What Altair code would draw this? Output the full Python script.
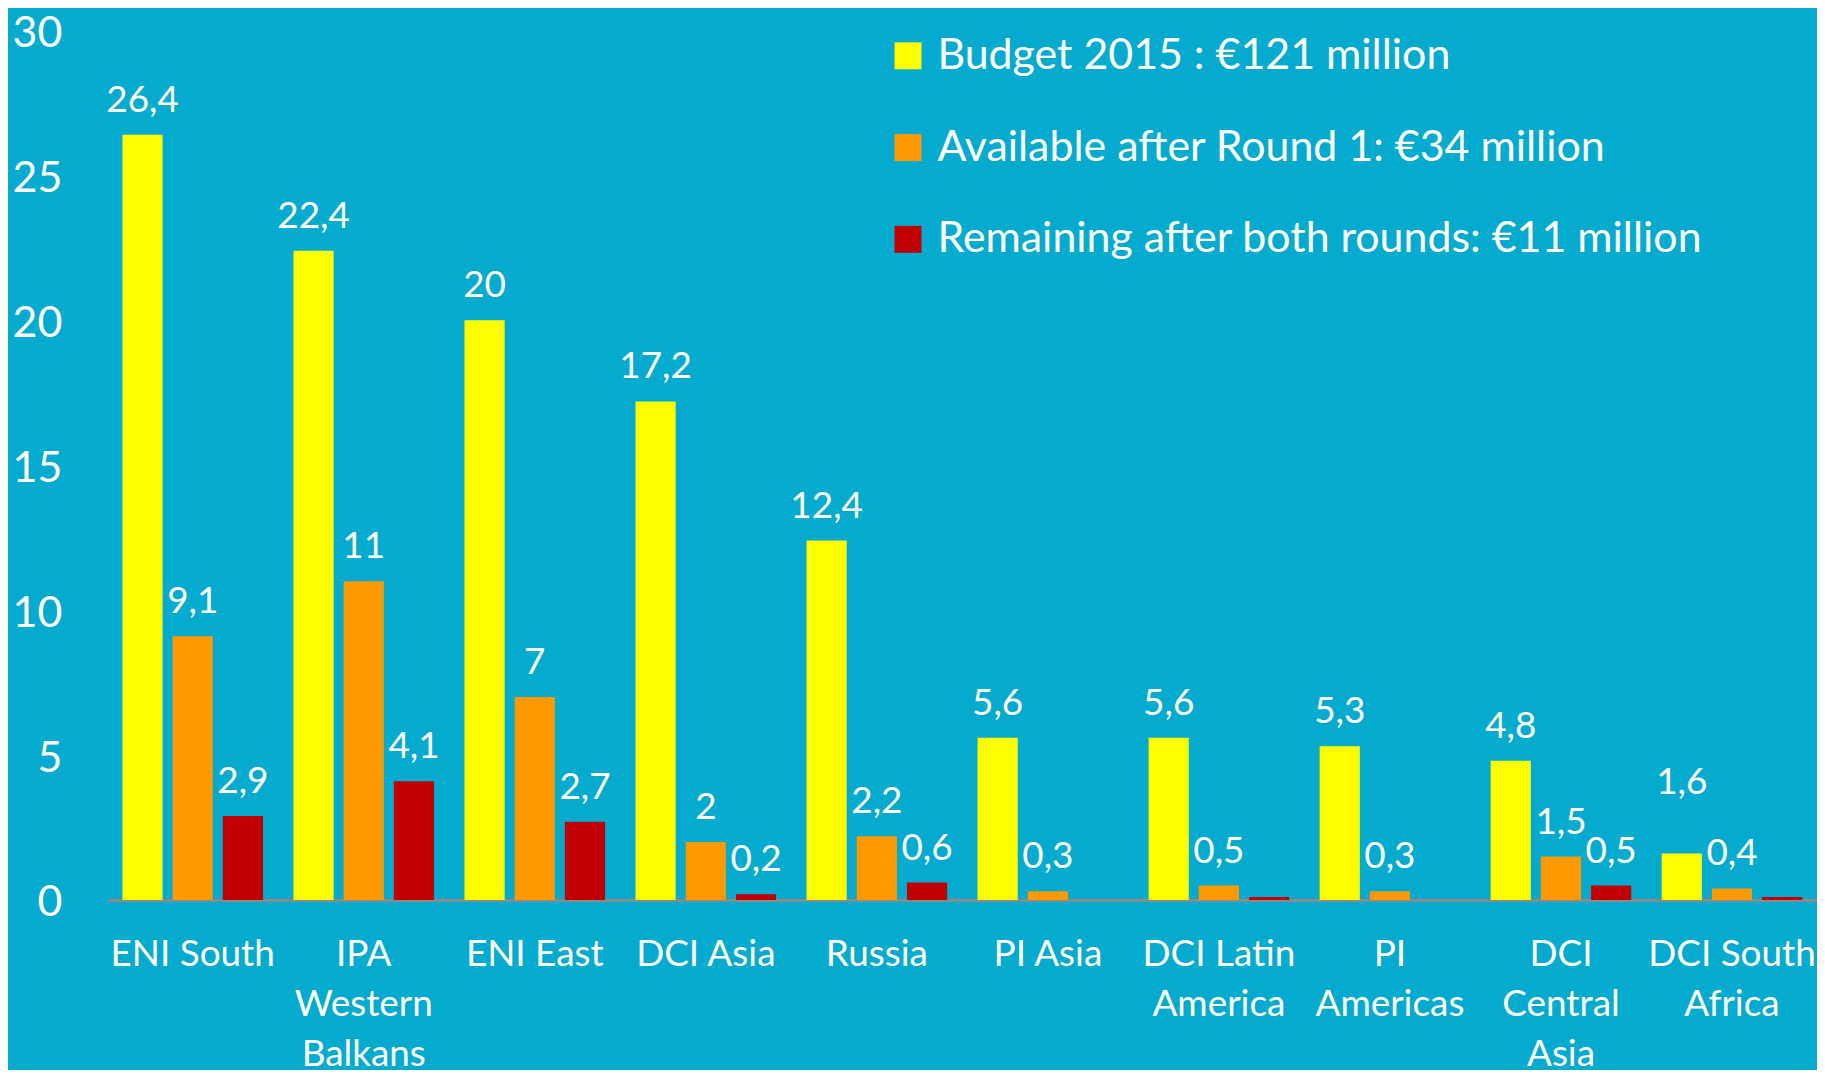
import altair as alt
import pandas as pd

categories = [
    "ENI South", "IPA\nWestern\nBalkans", "ENI East", "DCI Asia", "Russia",
    "PI Asia", "DCI Latin\nAmerica", "PI\nAmericas", "DCI\nCentral\nAsia", "DCI South\nAfrica",
]
series_names = [
    "Budget 2015 : €121 million",
    "Available after Round 1: €34 million",
    "Remaining after both rounds: €11 million",
]
budget_2015 = [26.4, 22.4, 20, 17.2, 12.4, 5.6, 5.6, 5.3, 4.8, 1.6]
after_round1 = [9.1, 11, 7, 2, 2.2, 0.3, 0.5, 0.3, 1.5, 0.4]
after_both = [2.9, 4.1, 2.7, 0.2, 0.6, 0, 0.1, 0, 0.5, 0.1]
# labels as printed on the chart ("" where no label is shown)
after_both_labels = ["2,9", "4,1", "2,7", "0,2", "0,6", "", "", "", "0,5", ""]
colors = ["#FFFF00", "#FF9900", "#C00000"]
y_ticks = [0, 5, 10, 15, 20, 25, 30]


def fmt(v):
    return ("%g" % v).replace(".", ",")


rows = []
for i, c in enumerate(categories):
    rows.append({"cat": c, "series": series_names[0], "value": budget_2015[i], "label": fmt(budget_2015[i])})
    rows.append({"cat": c, "series": series_names[1], "value": after_round1[i], "label": fmt(after_round1[i])})
    rows.append({"cat": c, "series": series_names[2], "value": after_both[i], "label": after_both_labels[i]})
df = pd.DataFrame(rows)

FONT = "Lato"

x_enc = alt.X(
    "cat:N",
    sort=categories,
    scale=alt.Scale(paddingInner=0.178, paddingOuter=0.086, align=0.5),
    axis=alt.Axis(
        title=None,
        labelAngle=0,
        labelColor="white",
        labelFont=FONT,
        labelFontSize=37,
        labelPadding=37,
        labelLineHeight=50,
        labelLimit=400,
        labelOverlap=False,
        labelExpr="split(datum.label, '\\n')",
        ticks=False,
        domain=True,
        domainColor="#8A8A8A",
        domainWidth=3,
        grid=False,
    ),
)
xoff_enc = alt.XOffset("series:N", sort=series_names, scale=alt.Scale(paddingInner=0.2, paddingOuter=0))

base = alt.Chart(df).encode(x=x_enc, xOffset=xoff_enc)

bars = base.mark_bar().encode(
    y=alt.Y(
        "value:Q",
        scale=alt.Scale(domain=[0, 30], nice=False),
        axis=alt.Axis(
            title=None,
            values=y_ticks,
            labelColor="white",
            labelFont=FONT,
            labelFontSize=43,
            labelPadding=46,
            labelOffset=3,
            labelBaseline="middle",
            ticks=False,
            domain=False,
            grid=False,
        ),
    ),
    color=alt.Color(
        "series:N",
        sort=series_names,
        scale=alt.Scale(domain=series_names, range=colors),
        legend=alt.Legend(
            title=None,
            orient="none",
            legendX=781,
            legendY=4,
            symbolType="square",
            symbolSize=729,
            symbolStrokeWidth=0,
            labelColor="white",
            labelFont=FONT,
            labelFontSize=43,
            labelOffset=8,
            labelLimit=0,
            rowPadding=48,
            padding=0,
        ),
    ),
)

raised = "datum.cat == 'DCI South\\nAfrica' && datum.series == 'Budget 2015 : €121 million'"

labels = base.mark_text(
    color="white", font=FONT, fontSize=37, baseline="alphabetic", dy=-23
).encode(
    y=alt.Y("value:Q"),
    text="label:N",
).transform_filter("!(" + raised + ")")

labels_raised = base.mark_text(
    color="white", font=FONT, fontSize=37, baseline="alphabetic", dy=-60
).encode(
    y=alt.Y("value:Q"),
    text="label:N",
).transform_filter(raised)

chart = (
    alt.layer(bars, labels, labels_raised)
    .properties(
        width=1714,
        height=872,
        autosize=alt.AutoSizeParams(type="none"),
        padding={"left": 100, "top": 21, "right": 0, "bottom": 169},
    )
    .configure(background="#05ABCE")
    .configure_view(stroke=None)
)

chart.save("out.html", embed_options={"renderer": "svg", "actions": False})
